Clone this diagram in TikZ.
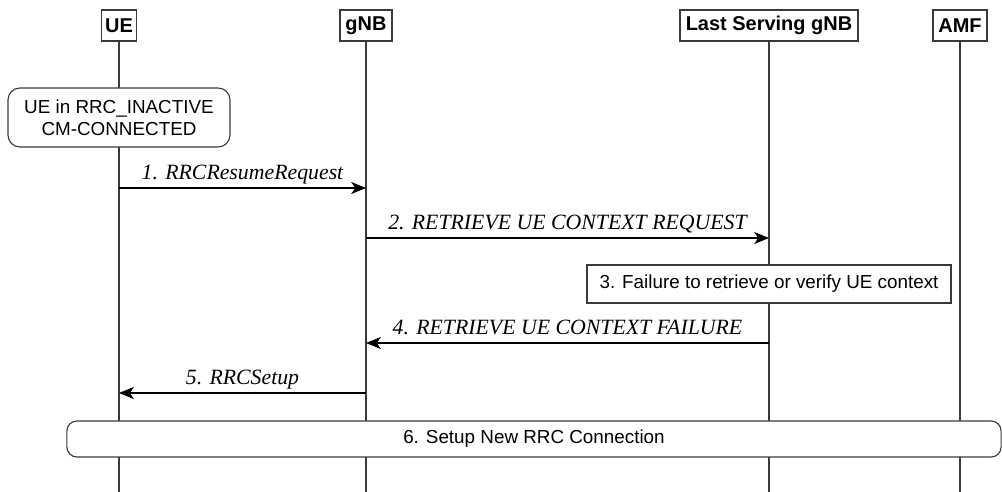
\documentclass[tikz,border=0pt]{standalone}
\usepackage{fontspec}
\setmainfont{Liberation Serif}
\setsansfont{Liberation Sans}
\usetikzlibrary{arrows.meta, positioning, calc}
\definecolor{lifegray}{HTML}{3A3A3A}

\begin{document}
\begin{tikzpicture}[x=0.025cm, y=-0.025cm,
    entity/.style={draw, lifegray, line width=0.8pt, fill=white, text=black,
      font=\sffamily\bfseries\fontsize{14.2}{16}\selectfont,
      minimum height=0.775cm, inner sep=0pt},
    lifeline/.style={lifegray, line width=0.8pt},
    statebox/.style={draw, lifegray, line width=0.8pt, fill=white, text=black,
      rounded corners=0.3cm, align=center, inner sep=0pt,
      font=\sffamily\fontsize{13.4}{15.6}\selectfont},
    notebox/.style={draw, lifegray, line width=0.8pt, fill=white, text=black,
      inner sep=0pt, font=\sffamily\fontsize{13.4}{16}\selectfont},
    msg/.style={-{Stealth[length=0.37cm, width=0.3cm, inset=0.1cm]}, line width=0.8pt, black},
    msglabel/.style={anchor=base, yshift=0.2cm, inner sep=0pt,
      font=\rmfamily\itshape\fontsize{15.5}{18}\selectfont}]
  \useasboundingbox (0,0) rectangle (1002,492);

  % Entities
  \node[entity, minimum width=0.875cm] (ue)   at (119,25.5) {UE};
  \node[entity, minimum width=1.3cm]   (gnb)  at (366,25.5) {gNB};
  \node[entity, minimum width=4.45cm]  (last) at (769,25.5) {Last Serving gNB};
  \node[entity, minimum width=1.35cm]  (amf)  at (960,25.5) {AMF};

  % Lifelines
  \coordinate (ue-end)   at (119,492);
  \coordinate (gnb-end)  at (366,492);
  \coordinate (last-end) at (769,492);
  \coordinate (amf-end)  at (960,492);
  \draw[lifeline] (ue)   -- (ue-end);
  \draw[lifeline] (gnb)  -- (gnb-end);
  \draw[lifeline] (last) -- (last-end);
  \draw[lifeline] (amf)  -- (amf-end);

  % UE state
  \node[statebox, minimum width=5.55cm, minimum height=1.475cm] (uestate) at (119,117.5)
    {UE in RRC\_INACTIVE\\CM-CONNECTED};

  % Message end points
  \coordinate (m1-ue)   at (119,188);
  \coordinate (m1-gnb)  at (366,188);
  \coordinate (m2-gnb)  at (366,238);
  \coordinate (m2-last) at (769,238);
  \coordinate (m4-last) at (769,343);
  \coordinate (m4-gnb)  at (366,343);
  \coordinate (m5-gnb)  at (366,393);
  \coordinate (m5-ue)   at (119,393);

  % Messages
  \draw[msg] (m1-ue) -- node[msglabel] {1. RRCResumeRequest} (m1-gnb);
  \draw[msg] (m2-gnb) -- node[msglabel] {2. RETRIEVE UE CONTEXT REQUEST} (m2-last);
  \node[notebox, minimum width=9.1cm, minimum height=0.95cm] (failure) at (769,284)
    {3. Failure to retrieve or verify UE context};
  \draw[msg] (m4-last) -- node[msglabel] {4. RETRIEVE UE CONTEXT FAILURE} (m4-gnb);
  \draw[msg] (m5-gnb) -- node[msglabel] {5. RRCSetup} (m5-ue);

  % New connection
  \node[statebox, rounded corners=0.25cm, minimum width=23.35cm, minimum height=0.9cm] (setup) at (534,439)
    {6. Setup New RRC Connection};
\end{tikzpicture}
\end{document}
